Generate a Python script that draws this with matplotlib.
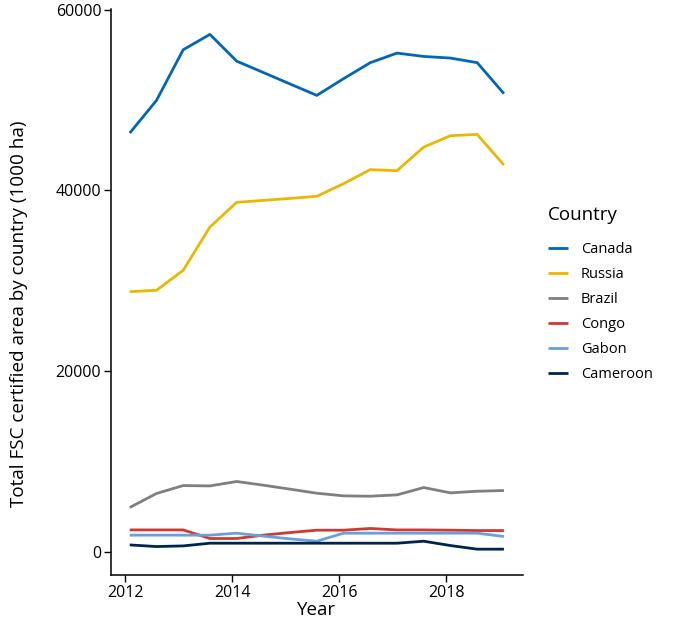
import matplotlib.pyplot as plt
import numpy as np

plt.rcParams["font.family"] = ["Open Sans", "DejaVu Sans"]

# half-year sample dates
years = [2012.08, 2012.58, 2013.08, 2013.58, 2014.08, 2014.58, 2015.08, 2015.58,
         2016.08, 2016.58, 2017.08, 2017.58, 2018.08, 2018.58, 2019.08]

canada = [46350, 49960, 55570, 57270, 54310, 53050, 51780, 50520,
          52370, 54140, 55200, 54830, 54650, 54140, 50710]
russia = [28800, 28950, 31160, 35950, 38680, 38900, 39120, 39350,
          40750, 42300, 42190, 44800, 46060, 46200, 42810]
brazil = [4910, 6460, 7340, 7300, 7790, 7380, 6940, 6490,
          6200, 6160, 6310, 7120, 6530, 6710, 6790]
congo = [2430, 2430, 2430, 1480, 1480, 1850, 2140, 2400,
         2400, 2590, 2430, 2430, 2400, 2360, 2360]
gabon = [1850, 1850, 1850, 1850, 2070, 1740, 1440, 1180,
         2070, 2070, 2070, 2070, 2070, 2070, 1700]
cameroon = [770, 590, 660, 960, 960, 960, 960, 960,
            960, 960, 960, 1180, 700, 300, 300]

countries = ["Canada", "Russia", "Brazil", "Congo", "Gabon", "Cameroon"]
series = [canada, russia, brazil, congo, gabon, cameroon]
colors = ["#0066bb", "#ebb700", "#7f7f7f", "#d0392f", "#6a9fdc", "#00234f"]

fig = plt.figure(figsize=(6.77, 6.3), dpi=100)
ax = fig.add_axes([0.164, 0.087, 0.608, 0.899])

for name, vals, c in zip(countries, series, colors):
    ax.plot(years, vals, color=c, linewidth=2.0, label=name,
            solid_capstyle="butt", solid_joinstyle="round")

ax.set_xlim(2011.73, 2019.43)
ax.set_ylim(-2580, 60100)
ax.set_xticks([2012, 2014, 2016, 2018])
ax.set_yticks([0, 20000, 40000, 60000])
ax.tick_params(direction="out", length=5, width=1, labelsize=11.5,
               colors="black", pad=2)

ax.spines[["top", "right"]].set_visible(False)
ax.spines[["left", "bottom"]].set_linewidth(1.1)

ax.set_xlabel("Year", fontsize=13.5, labelpad=0)
# y title sits a bit lower than the panel centre in the original
fig.text(0.028, 1 - 314 / 630, "Total FSC certified area by country (1000 ha)",
         rotation=90, ha="center", va="center", fontsize=13.6)

leg = fig.legend(loc="upper left", bbox_to_anchor=(0.79, 0.694),
                 frameon=False, title="Country", fontsize=10.5,
                 title_fontsize=13.5, handlelength=1.35, handletextpad=0.9,
                 labelspacing=0.69)
leg._legend_box.align = "left"
leg._legend_box.sep = 13

fig.savefig("out.png", dpi=100)
